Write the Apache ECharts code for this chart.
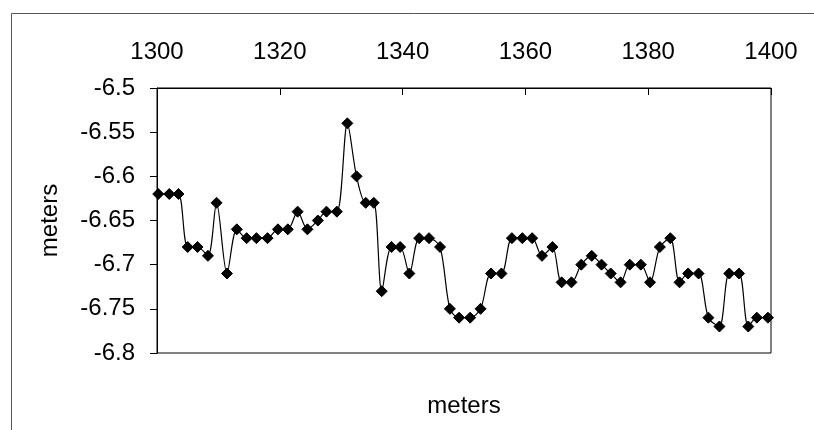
<!DOCTYPE html>
<html>
<head>
<meta charset="utf-8">
<script src="https://cdn.jsdelivr.net/npm/echarts@6/dist/echarts.min.js"></script>
<style>
html,body{margin:0;padding:0;background:#fff;}
#chart{width:814px;height:430px;}
</style>
</head>
<body>
<div id="chart"></div>
<script>
// Distance along profile (meters)
const distances = [
  1300.2, 1302.0, 1303.5, 1305.0, 1306.6, 1308.3, 1309.7, 1311.4, 1313.0, 1314.6,
  1316.2, 1318.0, 1319.7, 1321.3, 1322.9, 1324.5, 1326.2, 1327.6, 1329.3, 1331.0,
  1332.5, 1334.0, 1335.3, 1336.6, 1338.2, 1339.6, 1341.1, 1342.7, 1344.3, 1346.1,
  1347.7, 1349.2, 1351.0, 1352.7, 1354.4, 1356.1, 1357.8, 1359.5, 1361.1, 1362.7,
  1364.4, 1365.9, 1367.5, 1369.1, 1370.8, 1372.4, 1373.9, 1375.5, 1377.0, 1378.8,
  1380.3, 1381.9, 1383.6, 1385.1, 1386.5, 1388.2, 1389.8, 1391.6, 1393.2, 1394.8,
  1396.3, 1397.7, 1399.5
];
// Elevation (meters)
const elevations = [
  -6.62, -6.62, -6.62, -6.68, -6.68, -6.69, -6.63, -6.71, -6.66, -6.67,
  -6.67, -6.67, -6.66, -6.66, -6.64, -6.66, -6.65, -6.64, -6.64, -6.54,
  -6.60, -6.63, -6.63, -6.73, -6.68, -6.68, -6.71, -6.67, -6.67, -6.68,
  -6.75, -6.76, -6.76, -6.75, -6.71, -6.71, -6.67, -6.67, -6.67, -6.69,
  -6.68, -6.72, -6.72, -6.70, -6.69, -6.70, -6.71, -6.72, -6.70, -6.70,
  -6.72, -6.68, -6.67, -6.72, -6.71, -6.71, -6.76, -6.77, -6.71, -6.71,
  -6.77, -6.76, -6.76
];
const xTicks = [1300, 1320, 1340, 1360, 1380, 1400];
const yTicks = [-6.8, -6.75, -6.7, -6.65, -6.6, -6.55, -6.5];
const xAxisTitle = 'meters';
const yAxisTitle = 'meters';

const FONT = "'Liberation Sans', Arial, sans-serif";
const seriesData = distances.map((d, i) => [d, elevations[i]]);

const chart = echarts.init(document.getElementById('chart'), null, {renderer: 'canvas'});
chart.setOption({
  animation: false,
  backgroundColor: '#ffffff',
  graphic: [{
    type: 'rect',
    shape: {x: 11.5, y: 13.5, width: 900, height: 600},
    style: {fill: 'none', stroke: '#555', lineWidth: 1},
    silent: true
  }],
  grid: {
    left: 157, top: 88, right: 43, bottom: 77,
    show: true, borderColor: '#000', borderWidth: 1, backgroundColor: 'transparent'
  },
  xAxis: [{
    type: 'value',
    position: 'top',
    min: xTicks[0], max: xTicks[xTicks.length - 1], interval: 20,
    axisLine: {show: true, lineStyle: {color: '#000', width: 1}},
    axisTick: {show: true, inside: true, length: 7, lineStyle: {color: '#000'}},
    axisLabel: {
      color: '#000', fontFamily: FONT, fontSize: 24, margin: 24,
      formatter: v => String(v)
    },
    splitLine: {show: false}
  }, {
    type: 'value',
    position: 'bottom',
    min: xTicks[0], max: xTicks[xTicks.length - 1],
    name: xAxisTitle, nameLocation: 'middle', nameGap: 41,
    nameTextStyle: {color: '#000', fontFamily: FONT, fontSize: 24},
    axisLine: {show: false}, axisTick: {show: false}, axisLabel: {show: false},
    splitLine: {show: false}
  }],
  yAxis: {
    type: 'value',
    min: yTicks[0], max: yTicks[yTicks.length - 1], interval: 0.05,
    name: yAxisTitle, nameLocation: 'middle', nameGap: 95,
    nameTextStyle: {color: '#000', fontFamily: FONT, fontSize: 24},
    axisLine: {show: true, lineStyle: {color: '#000', width: 1}},
    axisTick: {show: true, inside: false, length: 7, lineStyle: {color: '#000'}},
    axisLabel: {
      color: '#000', fontFamily: FONT, fontSize: 24, margin: 22,
      formatter: v => String(parseFloat(v.toFixed(2)))
    },
    splitLine: {show: false}
  },
  series: [{
    type: 'line',
    data: seriesData,
    xAxisIndex: 0,
    smooth: 0.3,
    symbol: 'diamond',
    symbolSize: 11,
    lineStyle: {color: '#000', width: 1.2},
    itemStyle: {color: '#000', borderColor: '#000'},
    z: 3
  }]
});
</script>
</body>
</html>
